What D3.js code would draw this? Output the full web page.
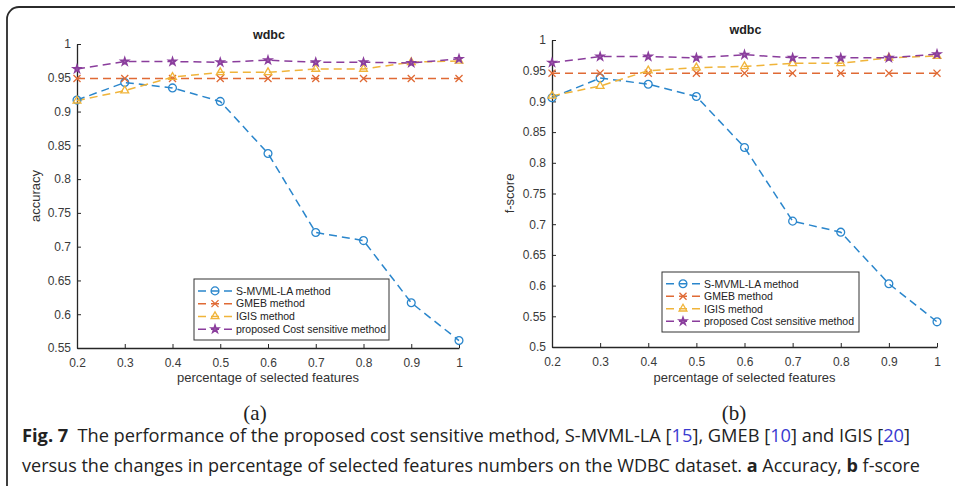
<!DOCTYPE html>
<html>
<head>
<meta charset="utf-8">
<script src="https://cdn.jsdelivr.net/npm/d3@7"></script>
<style>
  body { margin: 0; background: #fff; }
  svg { display: block; }
</style>
</head>
<body>
<svg id="fig" width="955" height="486"></svg>
<script>
// percentage of selected features
var xs = [0.2, 0.3, 0.4, 0.5, 0.6, 0.7, 0.8, 0.9, 1.0];
var xTicks = [0.2, 0.3, 0.4, 0.5, 0.6, 0.7, 0.8, 0.9, 1];

// (a) accuracy
var accSmvml    = [0.917, 0.943, 0.935, 0.915, 0.838, 0.721, 0.709, 0.617, 0.561];
var accGmeb     = [0.949, 0.949, 0.949, 0.949, 0.949, 0.949, 0.949, 0.949, 0.949];
var accIgis     = [0.916, 0.931, 0.951, 0.958, 0.958, 0.963, 0.963, 0.973, 0.975];
var accProposed = [0.963, 0.974, 0.974, 0.973, 0.976, 0.973, 0.973, 0.972, 0.978];
var accTicks = [0.55, 0.6, 0.65, 0.7, 0.75, 0.8, 0.85, 0.9, 0.95, 1];

// (b) f-score
var fSmvml    = [0.906, 0.938, 0.928, 0.908, 0.825, 0.705, 0.687, 0.603, 0.541];
var fGmeb     = [0.946, 0.946, 0.946, 0.946, 0.946, 0.946, 0.946, 0.946, 0.946];
var fIgis     = [0.909, 0.925, 0.950, 0.955, 0.957, 0.962, 0.962, 0.971, 0.974];
var fProposed = [0.963, 0.973, 0.973, 0.971, 0.976, 0.971, 0.971, 0.971, 0.977];
var fTicks = [0.5, 0.55, 0.6, 0.65, 0.7, 0.75, 0.8, 0.85, 0.9, 0.95, 1];

var seriesNames = ['S-MVML-LA method', 'GMEB method', 'IGIS method', 'proposed Cost sensitive method'];
var colors = ['#2a86cc', '#e06a35', '#f0b43a', '#8a3d9c'];
var symbols = [d3.symbolCircle, d3.symbolX, d3.symbolTriangle2, d3.symbolStar];
var symSizes = [48, 34, 44, 16];

var svg = d3.select('#fig');
var font = 'Arial, "Liberation Sans", Helvetica, sans-serif';

// outer frame (runs off the right and bottom edges)
svg.append('rect')
  .attr('x', 7).attr('y', 7)
  .attr('width', 1100).attr('height', 700)
  .attr('rx', 12)
  .attr('fill', 'none')
  .attr('stroke', '#2b2b2b')
  .attr('stroke-width', 1.8);

function marker(sel, i) {
  sel.attr('d', d3.symbol().type(symbols[i]).size(symSizes[i]))
    .attr('fill', i === 3 ? '#a76bb8' : 'none')
    .attr('stroke', colors[i])
    .attr('stroke-width', i === 3 ? 1.6 : 1.3);
}

function panel(o) {
  var g = svg.append('g');
  var x = d3.scaleLinear().domain([0.2, 1]).range([o.x0, o.x1]);
  var y = d3.scaleLinear().domain(o.yDomain).range([o.y1, o.y0]);

  var xAxis = g.append('g')
    .attr('transform', 'translate(0,' + o.y1 + ')')
    .call(d3.axisBottom(x).tickValues(xTicks).tickSizeInner(-4).tickSizeOuter(0).tickPadding(10)
      .tickFormat(function(d) { return d === 1 ? '1' : d3.format('.1f')(d); }));
  var yAxis = g.append('g')
    .attr('transform', 'translate(' + o.x0 + ',0)')
    .call(d3.axisLeft(y).tickValues(o.yTicks).tickSizeInner(-4).tickSizeOuter(0).tickPadding(6)
      .tickFormat(function(d) { return d === 1 ? '1' : String(+d.toFixed(2)); }));

  [xAxis, yAxis].forEach(function(a) {
    a.select('.domain').attr('stroke', '#262626').attr('stroke-width', 1.3);
    a.selectAll('.tick line').attr('stroke', '#262626').attr('stroke-width', 1);
    a.selectAll('.tick text').attr('fill', '#3a3a3a').style('font-family', font).style('font-size', '12px');
  });

  g.append('text')
    .attr('x', (o.x0 + o.x1) / 2 + 1).attr('y', o.titleY)
    .attr('text-anchor', 'middle')
    .style('font-family', font).style('font-size', '12.5px').style('font-weight', 'bold')
    .attr('fill', '#222')
    .text('wdbc');

  g.append('text')
    .attr('x', (o.x0 + o.x1) / 2).attr('y', 382)
    .attr('text-anchor', 'middle')
    .style('font-family', font).style('font-size', '13px')
    .attr('fill', '#333')
    .text('percentage of selected features');

  g.append('text')
    .attr('transform', 'translate(' + o.yLabelX + ',' + ((o.y0 + o.y1) / 2) + ') rotate(-90)')
    .attr('text-anchor', 'middle')
    .style('font-family', font).style('font-size', '13px')
    .attr('fill', '#333')
    .text(o.yLabel);

  var line = d3.line()
    .x(function(d, i) { return x(xs[i]); })
    .y(function(d) { return y(d); });

  o.series.forEach(function(s, i) {
    g.append('path')
      .attr('d', line(s))
      .attr('fill', 'none')
      .attr('stroke', colors[i])
      .attr('stroke-width', 1.5)
      .attr('stroke-dasharray', '8,5');
  });
  o.series.forEach(function(s, i) {
    g.selectAll('.m' + i)
      .data(s)
      .enter().append('path')
      .attr('class', 'm' + i)
      .attr('transform', function(d, j) { return 'translate(' + x(xs[j]) + ',' + y(d) + ')'; })
      .call(marker, i);
  });

  // legend
  var lg = g.append('g').attr('transform', 'translate(' + o.lx + ',' + o.ly + ')');
  lg.append('rect')
    .attr('width', o.lw).attr('height', o.lh)
    .attr('fill', '#fff')
    .attr('stroke', '#333').attr('stroke-width', 1);
  var step = (o.lh - 10) / 4;
  seriesNames.forEach(function(name, i) {
    var cy = 5 + step * (i + 0.5) + 0.5;
    lg.append('line')
      .attr('x1', 4).attr('x2', 38).attr('y1', cy).attr('y2', cy)
      .attr('stroke', colors[i]).attr('stroke-width', 1.5)
      .attr('stroke-dasharray', '8,5');
    lg.append('path')
      .attr('transform', 'translate(21,' + cy + ')')
      .call(marker, i);
    lg.append('text')
      .attr('x', 42).attr('y', cy + 3.8)
      .style('font-family', font).style('font-size', '10.5px')
      .attr('fill', '#222')
      .text(name);
  });
}

panel({
  x0: 77, x1: 459, y0: 44, y1: 348,
  yDomain: [0.55, 1], yTicks: accTicks, yLabel: 'accuracy', yLabelX: 40, titleY: 39,
  series: [accSmvml, accGmeb, accIgis, accProposed],
  lx: 194, ly: 279, lw: 195, lh: 61
});

panel({
  x0: 552, x1: 937, y0: 40, y1: 347,
  yDomain: [0.5, 1], yTicks: fTicks, yLabel: 'f-score', yLabelX: 514, titleY: 34,
  series: [fSmvml, fGmeb, fIgis, fProposed],
  lx: 662, ly: 272, lw: 197, lh: 60
});

// sub-figure labels
[['(a)', 255], ['(b)', 734]].forEach(function(p) {
  svg.append('text')
    .attr('x', p[1]).attr('y', 420)
    .attr('text-anchor', 'middle')
    .style('font-family', '"Liberation Serif", "Times New Roman", serif')
    .style('font-size', '21px')
    .attr('fill', '#222')
    .text(p[0]);
});

// caption
var capFont = '"Open Sans", "Noto Sans", sans-serif';
var cap1 = svg.append('text')
  .attr('x', 22).attr('y', 442)
  .attr('textLength', 888).attr('lengthAdjust', 'spacingAndGlyphs')
  .style('font-family', capFont).style('font-size', '18px').attr('fill', '#222');
cap1.append('tspan').style('font-weight', 'bold').text('Fig. 7');
[['\u2002The performance of the proposed cost sensitive method, S-MVML-LA [', false], ['15', true],
 ['], GMEB [', false], ['10', true], ['] and IGIS [', false], ['20', true], [']', false]]
  .forEach(function(p) {
    cap1.append('tspan').attr('fill', p[1] ? '#3a3ad0' : '#222').text(p[0]);
  });

var cap2 = svg.append('text')
  .attr('x', 22).attr('y', 472)
  .attr('textLength', 898).attr('lengthAdjust', 'spacingAndGlyphs')
  .style('font-family', capFont).style('font-size', '18px').attr('fill', '#222');
cap2.append('tspan').text('versus the changes in percentage of selected features numbers on the WDBC dataset. ');
cap2.append('tspan').style('font-weight', 'bold').text('a');
cap2.append('tspan').text(' Accuracy, ');
cap2.append('tspan').style('font-weight', 'bold').text('b');
cap2.append('tspan').text(' f-score');
</script>
</body>
</html>
